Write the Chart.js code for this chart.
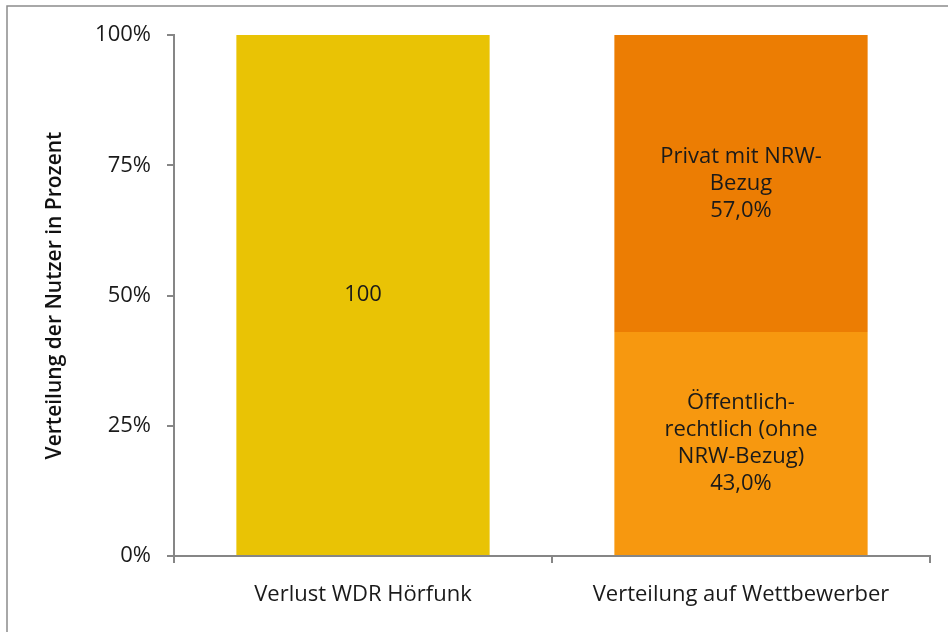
<!DOCTYPE html>
<html>
<head>
<meta charset="utf-8">
<script src="https://cdn.jsdelivr.net/npm/chart.js@4"></script>
<style>
  html, body { margin: 0; padding: 0; background: #fff; }
  #wrap { width: 948px; height: 632px; position: relative; }
</style>
</head>
<body>
<div id="wrap"><canvas id="myChart" width="948" height="632"></canvas></div>
<script>
var categories = ['Verlust WDR Hörfunk', 'Verteilung auf Wettbewerber'];
var verlust = [100, null];
var oeffentlich = [null, 43];
var privat = [null, 57];
var yTicks = [0, 25, 50, 75, 100];

var labelsVerlust = [['100'], null];
var labelsOeffentlich = [null, ['Öffentlich-', 'rechtlich (ohne', 'NRW-Bezug)', '43,0%']];
var labelsPrivat = [null, ['Privat mit NRW-', 'Bezug', '57,0%']];

var FONT = '"Open Sans", "Noto Sans", sans-serif';
var AXIS = '#868686';

// text inside the bars
const barLabels = {
    id: 'barLabels',
    afterDatasetsDraw(chart) {
        const ctx = chart.ctx;
        ctx.save();
        ctx.fillStyle = '#1a1a1a';
        ctx.font = '22px ' + FONT;
        ctx.textAlign = 'center';
        ctx.textBaseline = 'middle';
        chart.data.datasets.forEach(function (ds, i) {
            const meta = chart.getDatasetMeta(i);
            meta.data.forEach(function (bar, j) {
                const lines = ds.innerLabels[j];
                if (!lines) return;
                const cy = (bar.y + bar.base) / 2;
                const lh = 27;
                const y0 = cy - (lines.length - 1) * lh / 2;
                lines.forEach(function (t, k) {
                    ctx.fillText(t, bar.x, y0 + k * lh);
                });
            });
        });
        ctx.restore();
    }
};

// grey frame around the chart
const frame = {
    id: 'frame',
    beforeDraw(chart) {
        const ctx = chart.ctx;
        ctx.save();
        ctx.strokeStyle = '#8c8c8c';
        ctx.lineWidth = 1.5;
        ctx.strokeRect(7, 6, chart.width + 10, chart.height + 10);
        ctx.restore();
    }
};

const ctx = document.getElementById('myChart').getContext('2d');
const myChart = new Chart(ctx, {
    type: 'bar',
    data: {
        labels: categories,
        datasets: [
            { label: 'Verlust', data: verlust, backgroundColor: '#E9C305', innerLabels: labelsVerlust },
            { label: 'Öffentlich-rechtlich', data: oeffentlich, backgroundColor: '#F7980F', innerLabels: labelsOeffentlich },
            { label: 'Privat', data: privat, backgroundColor: '#EC7D03', innerLabels: labelsPrivat }
        ]
    },
    options: {
        responsive: false,
        animation: false,
        layout: { padding: { left: 0, right: 18, top: 35, bottom: 0 } },
        datasets: { bar: { categoryPercentage: 1, barPercentage: 0.67, skipNull: true } },
        plugins: {
            legend: { display: false },
            tooltip: { enabled: false }
        },
        scales: {
            x: {
                stacked: true,
                grid: { display: true, drawOnChartArea: false, color: AXIS, lineWidth: 2, tickLength: 7, offset: true },
                border: { color: AXIS, width: 2 },
                ticks: { color: '#1a1a1a', font: { family: FONT, size: 22 }, padding: 19 },
                afterFit: function (s) { s.height = 76; }
            },
            y: {
                stacked: true,
                min: 0,
                max: 100,
                afterBuildTicks: function (s) { s.ticks = yTicks.map(function (v) { return { value: v }; }); },
                grid: { display: true, drawOnChartArea: false, color: AXIS, lineWidth: 2, tickLength: 7 },
                border: { color: AXIS, width: 2 },
                ticks: {
                    color: '#1a1a1a',
                    font: { family: FONT, size: 22 },
                    padding: 16,
                    callback: function (v) { return v + '%'; }
                },
                title: {
                    display: true,
                    text: 'Verteilung der Nutzer in Prozent',
                    color: '#111',
                    font: { family: FONT, size: 21, weight: '600' },
                    padding: { top: 42, bottom: 0 }
                },
                afterFit: function (s) { s.width = 174; }
            }
        }
    },
    plugins: [barLabels, frame]
});
</script>
</body>
</html>
